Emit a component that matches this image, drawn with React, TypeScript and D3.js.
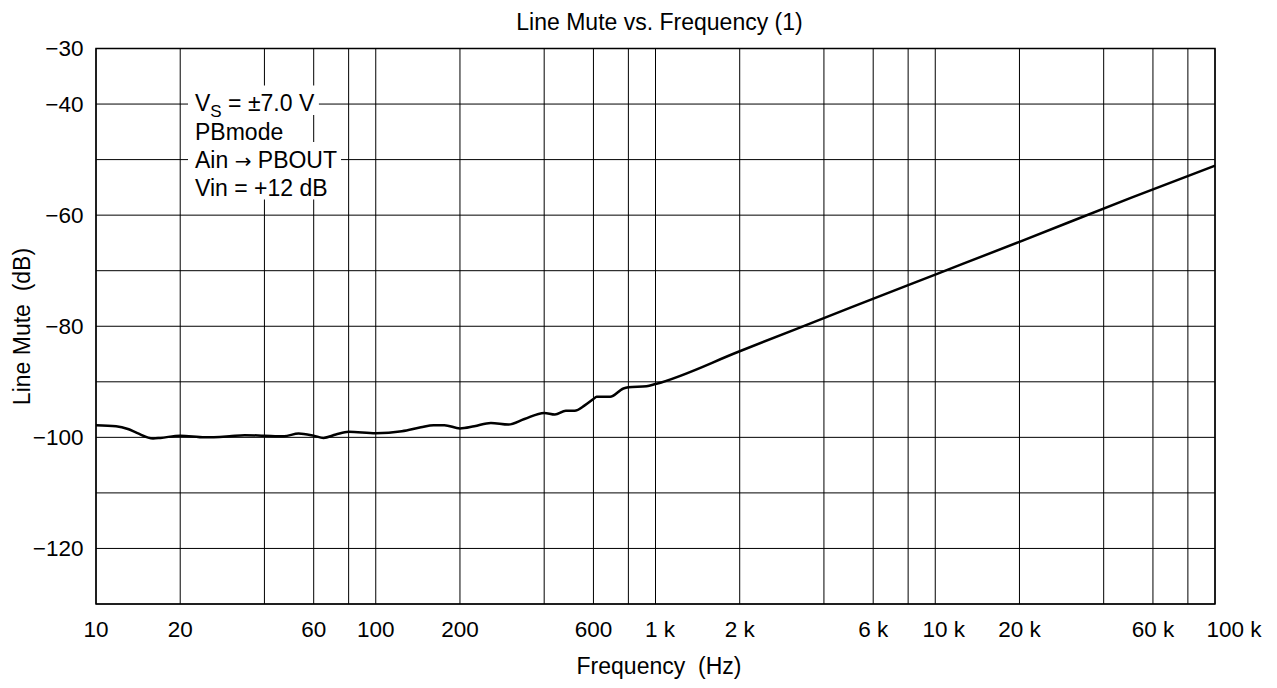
import React, { useEffect, useRef } from "react";
import * as d3 from "d3";

const freqHz = [10, 11.8, 13, 14, 16, 17, 20, 24.5, 30, 34, 40, 47, 53, 60, 65, 72, 80, 100, 124, 145, 161, 176, 200, 225, 258, 298, 340, 400, 437, 478, 514, 560, 600, 616, 688, 768, 800, 929, 1000, 2000, 5000, 10000, 20000, 50000, 100000];
const muteDb = [-97.8, -98.0, -98.5, -99.2, -100.2, -100.1, -99.7, -100.0, -99.8, -99.6, -99.7, -99.8, -99.3, -99.7, -100.1, -99.5, -99.0, -99.25, -98.9, -98.2, -97.8, -97.8, -98.4, -98.0, -97.4, -97.7, -96.7, -95.6, -95.9, -95.2, -95.2, -94.2, -93.1, -92.7, -92.7, -91.2, -91.0, -90.8, -90.4, -84.5, -76.6, -70.7, -64.8, -56.9, -51.1];

const xGrid = [10, 20, 40, 60, 80, 100, 200, 400, 600, 800, 1000, 2000, 4000, 6000, 8000, 10000, 20000, 40000, 60000, 80000, 100000];
const xTickValues = [10, 20, 60, 100, 200, 600, 1000, 2000, 6000, 10000, 20000, 60000, 100000];
const xTickLabels = ["10", "20", "60", "100", "200", "600", "1 k", "2 k", "6 k", "10 k", "20 k", "60 k", "100 k"];
const yGrid = [-30, -40, -50, -60, -70, -80, -90, -100, -110, -120, -130];
const yTickValues = [-30, -40, -60, -80, -100, -120];
const yTickLabels = ["\u221230", "\u221240", "\u221260", "\u221280", "\u2212100", "\u2212120"];

const title = "Line Mute vs. Frequency (1)";
const xTitle = "Frequency  (Hz)";
const yTitle = "Line Mute  (dB)";

const W = 1277;
const H = 688;
const M = { left: 96, right: 1215, top: 48.5, bottom: 604 };
const FONT = "'Liberation Sans', Arial, Helvetica, sans-serif";

export default function App() {
  const legendRef = useRef<SVGGElement>(null);

  const x = d3.scaleLog().domain([10, 100000]).range([M.left, M.right]);
  const y = d3.scaleLinear().domain([-130, -30]).range([M.bottom, M.top]);

  const line = d3
    .line<number>()
    .x((_, i) => x(freqHz[i]))
    .y((d) => y(d))
    .curve(d3.curveMonotoneX);

  const labelShift: Record<string, number> = { "1 k": 4.5, "10 k": 8.6, "100 k": 19 };

  useEffect(() => {
    const g = d3.select(legendRef.current);
    g.selectAll("*").remove();
    const x0 = 195;
    const baselines = [111, 140, 167.5, 195.5];
    const specs: { parts: { t: string; dy?: number; size?: number; family?: string }[] }[] = [
      { parts: [{ t: "V" }, { t: "S", dy: 5.5, size: 17 }, { t: " = \u00b17.0 V", dy: -5.5 }] },
      { parts: [{ t: "PBmode" }] },
      { parts: [{ t: "Ain " }, { t: "\u2192", family: "'DejaVu Sans', sans-serif", size: 20 }, { t: " PBOUT" }] },
      { parts: [{ t: "Vin = +12 dB" }] },
    ];
    const rectLayer = g.append("g");
    const textLayer = g.append("g");
    specs.forEach((sp, i) => {
      const b = baselines[i];
      const rect = rectLayer.append("rect").attr("fill", "#fff");
      const t = textLayer
        .append("text")
        .attr("x", x0)
        .attr("y", b)
        .attr("font-family", FONT)
        .attr("font-size", 23)
        .attr("fill", "#000")
        .style("white-space", "pre");
      sp.parts.forEach((p) => {
        const ts = t.append("tspan").text(p.t);
        if (p.dy) ts.attr("dy", p.dy);
        if (p.size) ts.attr("font-size", p.size);
        if (p.family) ts.attr("font-family", p.family);
      });
      const bb = (t.node() as SVGTextElement).getBBox();
      rect
        .attr("x", x0 - 7)
        .attr("y", b - 25.5)
        .attr("width", bb.width + 11)
        .attr("height", 29.5);
    });
  }, []);

  return (
    <svg width={W} height={H} style={{ position: "absolute", left: 0, top: 0, background: "#fff" }}>
      <rect x={0} y={0} width={W} height={H} fill="#fff" />
      {yGrid.map((v) => (
        <line key={"yg" + v} x1={M.left} x2={M.right} y1={y(v)} y2={y(v)} stroke="#000" strokeWidth={1} />
      ))}
      {xGrid.map((v) => (
        <line key={"xg" + v} x1={x(v)} x2={x(v)} y1={M.top} y2={M.bottom} stroke="#000" strokeWidth={1} />
      ))}
      <g ref={legendRef} />
      <rect x={M.left} y={M.top} width={M.right - M.left} height={M.bottom - M.top} fill="none" stroke="#000" strokeWidth={1.5} />
      <path d={line(muteDb) || ""} fill="none" stroke="#000" strokeWidth={2.5} strokeLinejoin="round" />
      {yTickValues.map((v, i) => (
        <text key={"yt" + v} x={83.5} y={y(v)} dy="0.35em" textAnchor="end" fontFamily={FONT} fontSize={22.5} fill="#000">
          {yTickLabels[i]}
        </text>
      ))}
      {xTickValues.map((v, i) => (
        <text key={"xt" + v} x={x(v) + (labelShift[xTickLabels[i]] || 0)} y={637} textAnchor="middle" fontFamily={FONT} fontSize={22.5} fill="#000">
          {xTickLabels[i]}
        </text>
      ))}
      <text x={659.5} y={30} textAnchor="middle" fontFamily={FONT} fontSize={23} fill="#000">
        {title}
      </text>
      <text x={659} y={674} textAnchor="middle" fontFamily={FONT} fontSize={23} fill="#000" style={{ whiteSpace: "pre" }}>
        {xTitle}
      </text>
      <text transform="translate(29.5,326.5) rotate(-90)" textAnchor="middle" fontFamily={FONT} fontSize={23} fill="#000" style={{ whiteSpace: "pre" }}>
        {yTitle}
      </text>
    </svg>
  );
}
